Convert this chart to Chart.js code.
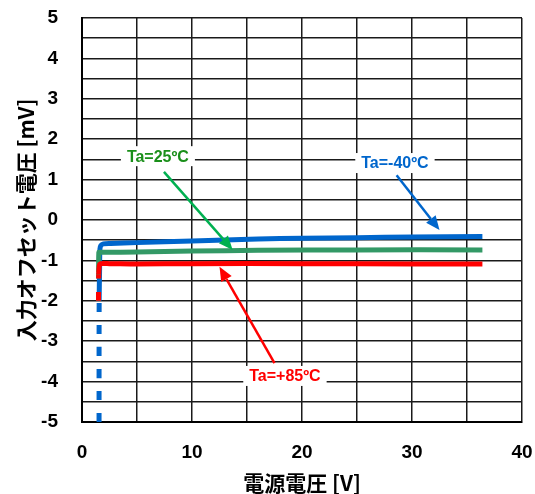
<!DOCTYPE html>
<html>
<head>
<meta charset="utf-8">
<script src="https://cdn.jsdelivr.net/npm/chart.js@4/dist/chart.umd.min.js"></script>
<style>
  html, body { margin: 0; padding: 0; background: #fff; }
  #wrap { width: 535px; height: 494px; }
</style>
</head>
<body>
<div id="wrap"><canvas id="c" width="535" height="494"></canvas></div>
<script>
// Input offset voltage vs. supply voltage, three ambient temperatures
const supplyBlue  = [1.55, 1.56, 1.6, 1.63, 1.72, 1.95, 2.6, 5, 10, 16, 20, 25, 30, 36.4];
const offsetBlue  = [-5.0, -2.0, -1.2, -0.72, -0.63, -0.59, -0.58, -0.56, -0.52, -0.47, -0.45, -0.44, -0.42, -0.41];

const supplyGreen = [1.5, 1.51, 1.53, 1.6, 2, 5, 10, 16, 25, 36.4];
const offsetGreen = [-2.0, -1.3, -0.8, -0.8, -0.8, -0.79, -0.77, -0.75, -0.74, -0.74];

const supplyRed   = [1.5, 1.52, 1.58, 1.7, 2.5, 5, 10, 20, 30, 36.4];
const offsetRed   = [-2.0, -1.35, -1.12, -1.08, -1.08, -1.09, -1.08, -1.08, -1.09, -1.09];

const seriesLabels = ['Ta=-40ºC', 'Ta=25ºC', 'Ta=+85ºC'];
const xTitle = '電源電圧 [V]';
const yTitle = '入力オフセット電圧 [mV]';

const toPoints = (xs, ys) => xs.map((x, i) => ({ x, y: ys[i] }));
const dashBelow = limit => ({
  borderDash: ctx => ctx.p1.parsed.x <= limit ? [9, 13] : undefined
});

// Callouts: label position and arrow (from -> to), all in data units
const callouts = [
  { text: seriesLabels[1], color: '#1a8f1a', arrow: '#00b050', lx: 6.9,  ly: 1.58,  from: [7.45, 1.19],  to: [13.7, -0.74] },
  { text: seriesLabels[0], color: '#0066cc', arrow: '#0066cc', lx: 28.45, ly: 1.41, from: [28.6, 1.11],  to: [32.5, -0.25] },
  { text: seriesLabels[2], color: '#ff0000', arrow: '#ff0000', lx: 18.45, ly: -3.86, from: [17.5, -3.54], to: [12.5, -1.16] }
];

const calloutPlugin = {
  id: 'callouts',
  afterDatasetsDraw(chart) {
    const { ctx, scales: { x, y } } = chart;
    ctx.save();
    callouts.forEach(c => {
      const x0 = x.getPixelForValue(c.from[0]), y0 = y.getPixelForValue(c.from[1]);
      const x1 = x.getPixelForValue(c.to[0]),   y1 = y.getPixelForValue(c.to[1]);
      const ang = Math.atan2(y1 - y0, x1 - x0);
      const headLen = 14, headHalf = 6;
      const bx = x1 - headLen * Math.cos(ang), by = y1 - headLen * Math.sin(ang);
      ctx.strokeStyle = c.arrow;
      ctx.fillStyle = c.arrow;
      ctx.lineWidth = 2.5;
      ctx.beginPath();
      ctx.moveTo(x0, y0);
      ctx.lineTo(bx, by);
      ctx.stroke();
      ctx.beginPath();
      ctx.moveTo(x1, y1);
      ctx.lineTo(bx + headHalf * Math.sin(ang), by - headHalf * Math.cos(ang));
      ctx.lineTo(bx - headHalf * Math.sin(ang), by + headHalf * Math.cos(ang));
      ctx.closePath();
      ctx.fill();
    });
    callouts.forEach(c => {
      const px = x.getPixelForValue(c.lx), py = y.getPixelForValue(c.ly);
      ctx.font = 'bold 16px "Liberation Sans", Arial, sans-serif';
      const w = ctx.measureText(c.text).width + 12;
      ctx.fillStyle = '#fff';
      ctx.fillRect(px - w / 2, py - 10, w, 20);
      ctx.fillStyle = c.color;
      ctx.textAlign = 'center';
      ctx.textBaseline = 'middle';
      ctx.fillText(c.text, px, py + 1);
    });
    ctx.restore();
  }
};

const tickFont = { family: '"Liberation Sans", Arial, sans-serif', size: 19, weight: 'bold' };
const titleFont = { family: '"Noto Sans CJK JP", "Liberation Sans", sans-serif', size: 21, weight: 'bold', lineHeight: 1 };
const gridStyle = { color: '#1a1a1a', lineWidth: 1.5, drawTicks: false };

new Chart(document.getElementById('c'), {
  type: 'line',
  data: {
    datasets: [
      { label: seriesLabels[2], data: toPoints(supplyRed, offsetRed), borderColor: '#ff0000', borderWidth: 5, segment: dashBelow(1.52) },
      { label: seriesLabels[1], data: toPoints(supplyGreen, offsetGreen), borderColor: '#339966', borderWidth: 5, segment: dashBelow(1.51) },
      { label: seriesLabels[0], data: toPoints(supplyBlue, offsetBlue), borderColor: '#0066cc', borderWidth: 5, segment: dashBelow(1.56) }
    ]
  },
  options: {
    responsive: false,
    animation: false,
    parsing: false,
    layout: { padding: { top: 18, right: 13, left: 0, bottom: 0 } },
    elements: { point: { radius: 0 }, line: { tension: 0.3, borderCapStyle: 'butt', borderJoinStyle: 'round' } },
    plugins: { legend: { display: false }, tooltip: { enabled: false } },
    scales: {
      x: {
        type: 'linear', min: 0, max: 40,
        ticks: { stepSize: 5, autoSkip: false, font: tickFont, color: '#000', padding: 19, maxRotation: 0,
                 callback: v => (v % 10 === 0 ? String(v) : '') },
        grid: gridStyle,
        border: { color: '#000', width: 2 },
        title: { display: true, text: xTitle, font: titleFont, color: '#000', padding: { top: 0, bottom: 0 } },
        afterFit: s => { s.height = 72; s.paddingLeft = 0; s.paddingRight = 0; }
      },
      y: {
        type: 'linear', min: -5, max: 5,
        ticks: { stepSize: 0.5, autoSkip: false, font: tickFont, color: '#000', padding: 24,
                 callback: v => (Number.isInteger(v) ? String(v) : '') },
        grid: gridStyle,
        border: { color: '#000', width: 2 },
        title: { display: true, text: yTitle, font: titleFont, color: '#000', padding: { top: 16, bottom: 0 } },
        afterFit: s => { s.width = 82; s.paddingTop = 0; s.paddingBottom = 0; }
      }
    }
  },
  plugins: [calloutPlugin]
});
</script>
</body>
</html>
